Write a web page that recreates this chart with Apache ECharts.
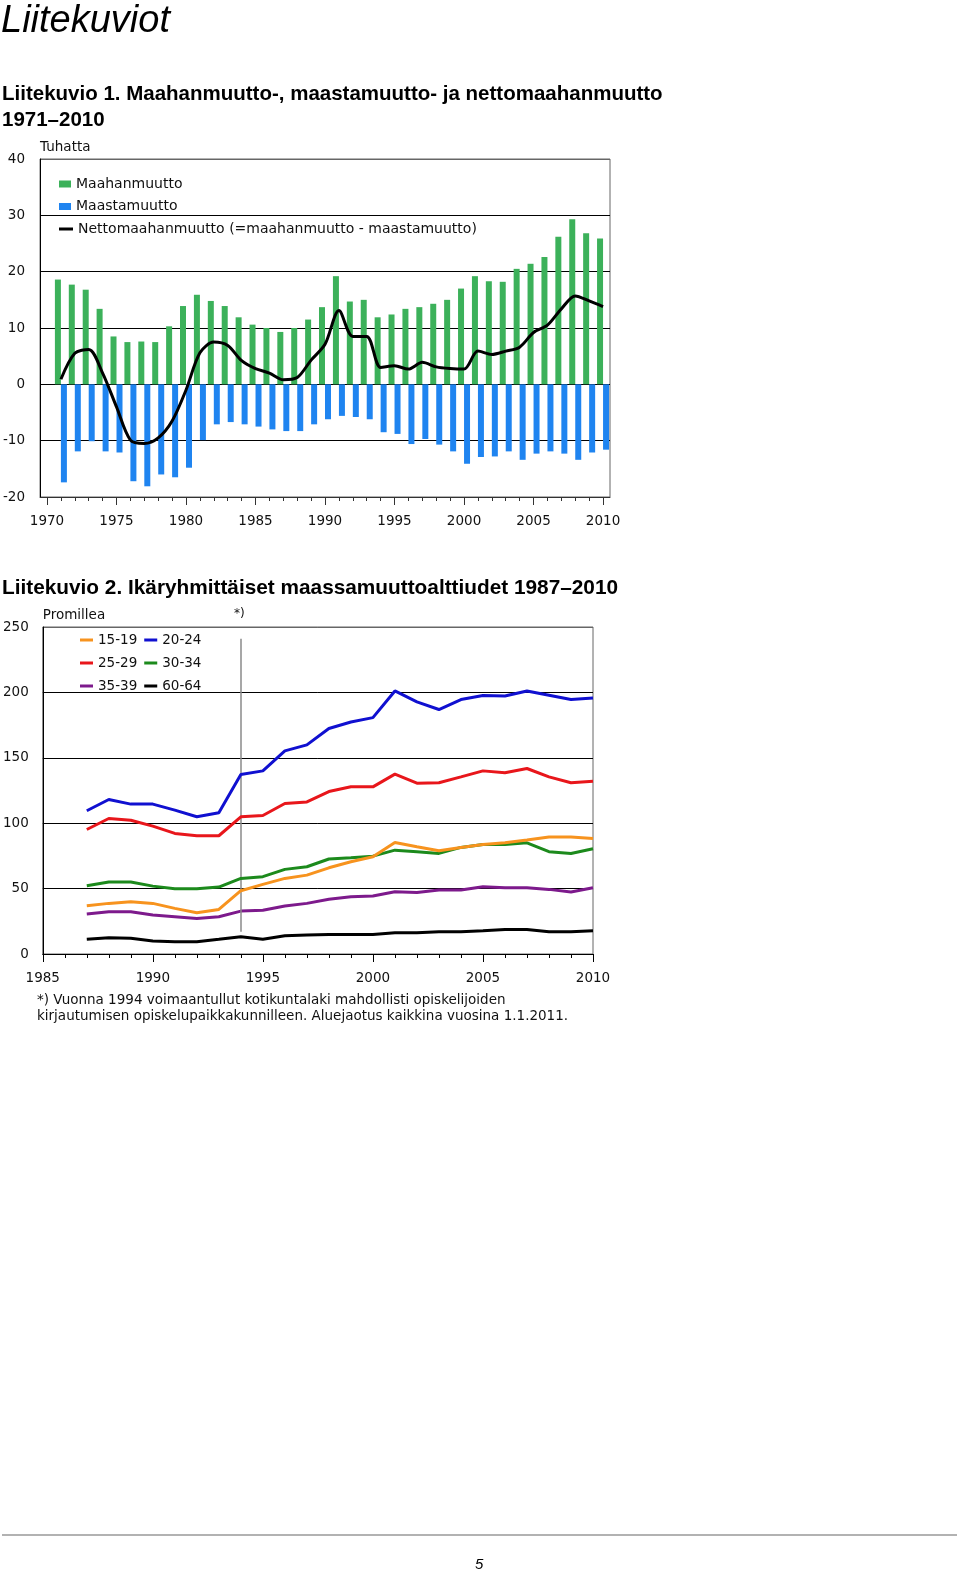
<!DOCTYPE html>
<html>
<head>
<meta charset="utf-8">
<script src="https://cdn.jsdelivr.net/npm/echarts@6/dist/echarts.min.js"></script>
<style>
html,body{margin:0;padding:0;background:#fff;}
#c{width:960px;height:1572px;}
</style>
</head>
<body>
<div id="c"></div>
<script>
// ---- Chart 1 data (thousands) ----
const years1 = [1971,1972,1973,1974,1975,1976,1977,1978,1979,1980,
  1981,1982,1983,1984,1985,1986,1987,1988,1989,1990,
  1991,1992,1993,1994,1995,1996,1997,1998,1999,2000,
  2001,2002,2003,2004,2005,2006,2007,2008,2009,2010];
const axisStartYear = ['1970'];
const immigration = [18.6,17.7,16.8,13.4,8.5,7.5,7.6,7.5,10.3,13.9,
  15.9,14.8,13.9,11.9,10.6,10.0,9.3,10.0,11.5,13.7,
  19.2,14.7,15.0,11.9,12.4,13.4,13.7,14.3,15.0,17.0,
  19.2,18.3,18.2,20.5,21.4,22.6,26.2,29.3,26.8,25.9];
const emigration = [-17.4,-11.9,-10.1,-11.9,-12.1,-17.2,-18.1,-16.0,-16.5,-14.8,
  -9.9,-7.1,-6.7,-7.1,-7.5,-8.0,-8.3,-8.3,-7.1,-6.2,
  -5.6,-5.8,-6.2,-8.5,-8.8,-10.6,-9.7,-10.7,-11.9,-14.1,
  -12.9,-12.8,-11.9,-13.4,-12.3,-11.9,-12.3,-13.4,-12.1,-11.6];
const netMigration = [0.9,5.5,6.2,2.0,-4.0,-9.9,-10.5,-9.5,-6.5,-1.0,
  5.6,7.5,6.9,4.2,2.8,2.0,0.8,1.2,4.3,7.1,
  13.1,8.5,8.5,3.0,3.3,2.7,3.9,3.1,2.8,2.7,
  5.9,5.3,5.9,6.6,9.2,10.5,13.4,15.7,14.8,13.8];
const seriesNames1 = ['Maahanmuutto','Maastamuutto','Nettomaahanmuutto (=maahanmuutto - maastamuutto)'];

// ---- Chart 2 data (per mille) ----
const years2 = [1987,1988,1989,1990,1991,1992,1993,1994,1995,1996,1997,1998,
  1999,2000,2001,2002,2003,2004,2005,2006,2007,2008,2009,2010];
const ageGroups = ['15-19','20-24','25-29','30-34','35-39','60-64'];
const a1519 = [36.9,38.7,40,38.7,34.9,31.6,34.1,48.4,53.2,57.8,60.3,65.9,70.5,74.3,85.3,82,78.9,81.5,83.8,85,87.1,89.4,89.4,88.3];
const a2024 = [109.5,118.1,114.6,114.6,110,104.9,108,137.2,140,155.3,159.9,172.4,177.4,180.7,201.1,192.7,186.9,194.5,197.6,197.3,201.1,197.8,194.5,195.8];
const a2529 = [95.2,103.6,102.3,97.8,92.2,90.4,90.4,104.9,105.9,115.1,116.3,124.2,127.8,127.8,137.5,130.6,130.9,135.4,140,138.5,141.8,135.4,130.9,132.1];
const a3034 = [52.2,55,55,51.9,49.9,49.9,51.2,57.8,59.1,64.7,66.7,72.6,73.6,74.8,79.4,78.2,76.9,81.5,83.8,83.8,85,78.2,76.9,80.4];
const a3539 = [30.5,32.3,32.3,29.8,28.5,27.2,28.5,32.8,33.4,36.7,38.7,41.8,43.8,44.3,47.6,47.1,48.9,48.9,51.4,50.7,50.7,49.4,47.4,50.7];
const a6064 = [11.2,12.5,12,9.9,9.4,9.4,11.2,13.2,11.2,14,14.5,15,15,15,16.3,16.3,17,17,17.8,18.8,18.8,17,17,17.8];
const lawChangeYear = 1994;

// ---- Texts ----
const pageTitle = 'Liitekuviot';
const fig1Title = 'Liitekuvio 1. Maahanmuutto-, maastamuutto- ja nettomaahanmuutto\n1971–2010';
const fig2Title = 'Liitekuvio 2. Ikäryhmittäiset maassamuuttoalttiudet 1987–2010';
const footnote = '*) Vuonna 1994 voimaantullut kotikuntalaki mahdollisti opiskelijoiden\nkirjautumisen opiskelupaikkakunnilleen. Aluejaotus kaikkina vuosina 1.1.2011.';

// ---- Build ----
const cats1 = axisStartYear.concat(years1.map(String));
const pad = arr => [null].concat(arr);
const pairs = arr => years2.map((y, i) => [y, arr[i]]);
const ageData = [a1519, a2024, a2529, a3034, a3539, a6064];
const ageColors = ['#f7931e', '#1010d0', '#e8161b', '#1c8a1c', '#7d1a8c', '#000000'];

const FONT = 'DejaVu Sans';
const TFONT = 'Liberation Sans';
const lab = {fontFamily: FONT, fontSize: 13.5, color: '#111'};

const chart = echarts.init(document.getElementById('c'), null, {renderer: 'canvas'});

const lineSeries2 = ageGroups.map((name, i) => ({
  name: name, type: 'line', xAxisIndex: 2, yAxisIndex: 1,
  data: pairs(ageData[i]), showSymbol: false, symbol: 'none',
  lineStyle: {color: ageColors[i], width: 3}, itemStyle: {color: ageColors[i]},
  z: 3 + (5 - i)
}));
lineSeries2[0].markLine = {
  silent: true, symbol: ['none', 'none'],
  lineStyle: {color: '#8a8a8a', width: 1.5, type: 'solid'},
  label: {show: false},
  data: [[{coord: [lawChangeYear, 241]}, {coord: [lawChangeYear, 17]}]]
};

const option = {
  animation: false,
  backgroundColor: '#fff',
  title: [
    {text: pageTitle, left: 1, top: 2, padding: 0,
     textStyle: {fontFamily: TFONT, fontStyle: 'italic', fontWeight: 'normal', fontSize: 38, lineHeight: 38, color: '#000'}},
    {text: fig1Title, left: 2, top: 81, padding: 0,
     textStyle: {fontFamily: TFONT, fontWeight: 'bold', fontSize: 20.5, lineHeight: 26, color: '#000'}},
    {text: fig2Title, left: 2, top: 575, padding: 0,
     textStyle: {fontFamily: TFONT, fontWeight: 'bold', fontSize: 20.8, lineHeight: 26, color: '#000'}},
    {text: footnote, left: 37, top: 992, padding: 0,
     textStyle: {fontFamily: FONT, fontWeight: 'normal', fontSize: 13.5, lineHeight: 16.5, color: '#111'}},
    {text: '*)', left: 234, top: 607, padding: 0,
     textStyle: {fontFamily: FONT, fontWeight: 'normal', fontSize: 12, lineHeight: 14, color: '#111'}},
    {text: '5', left: 475, top: 1557, padding: 0,
     textStyle: {fontFamily: TFONT, fontStyle: 'italic', fontWeight: 'normal', fontSize: 15, lineHeight: 16, color: '#000'}}
  ],
  graphic: [
    {type: 'line', shape: {x1: 2, y1: 1535, x2: 957, y2: 1535}, style: {stroke: '#999', lineWidth: 1.5}}
  ],
  legend: [
    {data: [seriesNames1[0], seriesNames1[1]], orient: 'vertical', left: 59, top: 176,
     itemWidth: 12, itemHeight: 7, itemGap: 6.5, icon: 'rect', padding: 0, selectedMode: false,
     textStyle: {fontFamily: FONT, fontSize: 14, lineHeight: 16, color: '#111'}},
    {data: [seriesNames1[2]], orient: 'vertical', left: 59, top: 221,
     itemWidth: 14, itemHeight: 3, icon: 'rect', padding: 0, selectedMode: false,
     textStyle: {fontFamily: FONT, fontSize: 14, lineHeight: 16, color: '#111'}},
    {data: ageGroups, orient: 'horizontal', left: 80, top: 632, width: 125,
     itemWidth: 13, itemHeight: 3, itemGap: 7, icon: 'rect', padding: 0, selectedMode: false,
     textStyle: {fontFamily: FONT, fontSize: 13.5, lineHeight: 16, color: '#111'}}
  ],
  grid: [
    {left: 38, top: 159, width: 572, height: 338, show: true, borderColor: '#666', borderWidth: 1, containLabel: false},
    {left: 41, top: 627, width: 552, height: 327, show: true, borderColor: '#666', borderWidth: 1, containLabel: false}
  ],
  xAxis: [
    {gridIndex: 0, type: 'category', data: cats1, position: 'bottom', boundaryGap: true,
     axisLine: {onZero: false, lineStyle: {color: '#333', width: 1}},
     axisTick: {show: true, alignWithLabel: true, interval: 4, length: 8, lineStyle: {color: '#333'}},
     axisLabel: Object.assign({interval: 4, margin: 17}, lab),
     splitLine: {show: false}},
    {gridIndex: 0, type: 'category', data: cats1, position: 'bottom', boundaryGap: true,
     axisLine: {show: false, onZero: false},
     axisTick: {show: true, alignWithLabel: true, interval: 0, length: 4, lineStyle: {color: '#333'}},
     axisLabel: {show: false}, splitLine: {show: false}},
    {gridIndex: 1, type: 'value', min: 1985, max: 2010, interval: 5, position: 'bottom',
     axisLine: {onZero: false, lineStyle: {color: '#000', width: 1}},
     axisTick: {show: true, length: 8, lineStyle: {color: '#000'}},
     minorTick: {show: true, splitNumber: 5, length: 4, lineStyle: {color: '#000'}},
     axisLabel: Object.assign({margin: 17, formatter: v => String(v)}, lab),
     splitLine: {show: false}}
  ],
  yAxis: [
    {gridIndex: 0, type: 'value', min: -20, max: 40, interval: 10,
     name: 'Tuhatta', nameLocation: 'end', nameGap: 5,
     nameTextStyle: {fontFamily: FONT, fontSize: 13.5, color: '#111', align: 'left'},
     axisLine: {show: true, lineStyle: {color: '#000'}},
     axisTick: {show: false},
     axisLabel: Object.assign({margin: 15}, lab),
     splitLine: {show: true, lineStyle: {color: ['#333','#000','#000','#000','#000','#000','#666'], width: 1}}},
    {gridIndex: 1, type: 'value', min: 0, max: 250, interval: 50,
     name: 'Promillea', nameLocation: 'end', nameGap: 5,
     nameTextStyle: {fontFamily: FONT, fontSize: 13.5, color: '#111', align: 'left'},
     axisLine: {show: true, lineStyle: {color: '#000'}},
     axisTick: {show: false},
     axisLabel: Object.assign({margin: 14}, lab),
     splitLine: {show: true, lineStyle: {color: ['#000','#000','#000','#000','#000','#666'], width: 1}}}
  ],
  series: [
    {name: seriesNames1[0], type: 'bar', xAxisIndex: 0, yAxisIndex: 0, data: pad(immigration),
     barWidth: 6, barGap: '0%', itemStyle: {color: '#3cb15a'}, z: 2},
    {name: seriesNames1[1], type: 'bar', xAxisIndex: 0, yAxisIndex: 0, data: pad(emigration),
     barWidth: 6, barGap: '0%', itemStyle: {color: '#1f84f0'}, z: 2},
    {name: seriesNames1[2], type: 'line', xAxisIndex: 0, yAxisIndex: 0, data: pad(netMigration),
     smooth: 0.3, showSymbol: false, symbol: 'none', connectNulls: false,
     lineStyle: {color: '#000', width: 3}, itemStyle: {color: '#000'}, z: 5}
  ].concat(lineSeries2)
};
chart.setOption(option);
</script>
</body>
</html>
